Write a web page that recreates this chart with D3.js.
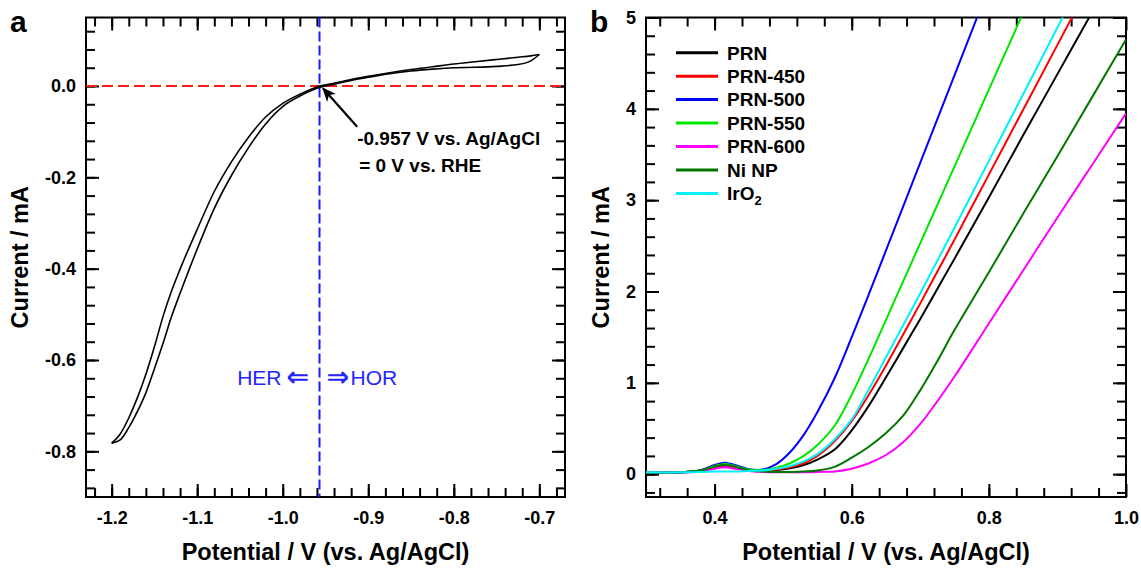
<!DOCTYPE html>
<html>
<head>
<meta charset="utf-8">
<script src="https://cdn.jsdelivr.net/npm/d3@7"></script>
<style>
  body { margin: 0; background: #fff; }
  svg { font-family: "Liberation Sans", Arial, sans-serif; }
</style>
</head>
<body>
<script>
// ---- panel a: CV in H2-saturated electrolyte ----
var cvPotential = [-1.20, -1.19, -1.18, -1.17, -1.16, -1.15, -1.14, -1.13, -1.12, -1.10,
                   -1.08, -1.06, -1.04, -1.02, -1.00, -0.98, -0.96, -0.94, -0.92, -0.90,
                   -0.875, -0.85, -0.825, -0.80, -0.775, -0.75, -0.725, -0.71, -0.70];
var cvCurrentUpper = [-0.782, -0.762, -0.727, -0.683, -0.631, -0.571, -0.505, -0.449, -0.401, -0.314,
                      -0.231, -0.166, -0.112, -0.068, -0.038, -0.018, -0.002, 0.006, 0.014, 0.021,
                      0.029, 0.036, 0.042, 0.048, 0.053, 0.058, 0.063, 0.066, 0.069];
var cvCurrentLower = [-0.782, -0.775, -0.748, -0.713, -0.672, -0.619, -0.564, -0.505, -0.454, -0.357,
                      -0.268, -0.196, -0.135, -0.083, -0.045, -0.022, -0.005, 0.004, 0.012, 0.019,
                      0.027, 0.033, 0.037, 0.040, 0.041, 0.043, 0.047, 0.055, 0.069];
var rhePotential = -0.957;
var cvXTicks = [-1.2, -1.1, -1.0, -0.9, -0.8, -0.7];
var cvYTicks = [0.0, -0.2, -0.4, -0.6, -0.8];

// ---- panel b: OER polarisation curves ----
var lsvPotential = [0.30, 0.35, 0.38, 0.40, 0.415, 0.43, 0.45, 0.47, 0.49, 0.51, 0.53, 0.55, 0.575,
                    0.60, 0.625, 0.65, 0.675, 0.70, 0.725, 0.75, 0.80, 0.85, 0.90, 0.95, 1.00];
var prn    = [0.015, 0.02, 0.04, 0.085, 0.10, 0.085, 0.045, 0.035, 0.045, 0.065, 0.10, 0.16, 0.27,
              0.48, 0.75, 1.06, 1.38, 1.70, 2.03, 2.36, 3.03, 3.71, 4.38, 5.05, 5.72];
var prn450 = [0.015, 0.02, 0.035, 0.075, 0.09, 0.075, 0.04, 0.035, 0.05, 0.075, 0.12, 0.20, 0.36,
              0.58, 0.87, 1.19, 1.53, 1.87, 2.22, 2.57, 3.28, 3.99, 4.70, 5.41, 6.12];
var prn500 = [0.015, 0.02, 0.045, 0.10, 0.125, 0.10, 0.055, 0.05, 0.11, 0.24, 0.43, 0.68, 1.05,
              1.50, 1.97, 2.45, 2.93, 3.41, 3.89, 4.37, 5.33, 6.29, 7.25, 8.21, 9.17];
var prn550 = [0.015, 0.02, 0.04, 0.09, 0.112, 0.09, 0.05, 0.045, 0.07, 0.12, 0.20, 0.32, 0.53,
              0.87, 1.27, 1.69, 2.11, 2.53, 2.95, 3.37, 4.21, 5.05, 5.89, 6.73, 7.57];
var prn600 = [0.015, 0.02, 0.03, 0.06, 0.075, 0.06, 0.035, 0.025, 0.02, 0.02, 0.02, 0.025, 0.03,
              0.06, 0.12, 0.21, 0.35, 0.55, 0.80, 1.07, 1.65, 2.23, 2.81, 3.38, 3.95];
var niNP   = [0.015, 0.02, 0.04, 0.085, 0.10, 0.085, 0.04, 0.03, 0.025, 0.025, 0.03, 0.04, 0.08,
              0.18, 0.30, 0.45, 0.64, 0.92, 1.24, 1.58, 2.21, 2.85, 3.48, 4.12, 4.76];
var irO2   = [0.02, 0.02, 0.025, 0.03, 0.03, 0.03, 0.035, 0.04, 0.06, 0.09, 0.14, 0.22, 0.38,
              0.60, 0.93, 1.28, 1.63, 1.98, 2.34, 2.70, 3.43, 4.16, 4.89, 5.62, 6.35];
var seriesNames  = ["PRN", "PRN-450", "PRN-500", "PRN-550", "PRN-600", "Ni NP", "IrO2"];
var seriesValues = [prn, prn450, prn500, prn550, prn600, niNP, irO2];
var seriesColors = ["#000000", "#ff0000", "#0000ff", "#00e600", "#ff00ff", "#007800", "#00f0ff"];
var lsvXTicks = [0.4, 0.6, 0.8, 1.0];
var lsvYTicks = [0, 1, 2, 3, 4, 5];

var width = 1141, height = 569;
var font = "'Liberation Sans', Arial, sans-serif";

var svg = d3.select("body").append("svg")
    .attr("width", width)
    .attr("height", height);

var xa = d3.scaleLinear().domain([-1.23, -0.67]).range([86, 565]),
    ya = d3.scaleLinear().domain([-0.9, 0.15]).range([497, 17.5]),
    xb = d3.scaleLinear().domain([0.3, 1.0]).range([646, 1126]),
    yb = d3.scaleLinear().domain([-0.25, 5]).range([497, 17.5]);

// inward ticks on all four sides, labels only bottom/left
function tickSet(g, axis, tr, vals, size, fmt, pad) {
  var a = g.append("g")
      .attr("transform", tr)
      .call(axis.tickValues(vals).tickSize(-size).tickPadding(pad || 0).tickFormat(fmt || ""));
  a.attr("font-family", null).attr("font-size", null);
  a.select(".domain").remove();
  a.selectAll("line").attr("stroke", "#000").attr("stroke-width", 2);
  a.selectAll("text")
      .attr("fill", "#000")
      .style("font-family", font)
      .style("font-size", "18px")
      .style("font-weight", "bold");
}

function frame(x, y, xMaj, xMin, yMaj, yMin, xFmt, yFmt) {
  var g = svg.append("g");
  var x0 = x.range()[0], x1 = x.range()[1], y0 = y.range()[0], y1 = y.range()[1];
  tickSet(g, d3.axisBottom(x), "translate(0," + y0 + ")", xMin, 9);
  tickSet(g, d3.axisBottom(x), "translate(0," + y0 + ")", xMaj, 13, xFmt, 14);
  tickSet(g, d3.axisTop(x), "translate(0," + y1 + ")", xMin, 9);
  tickSet(g, d3.axisTop(x), "translate(0," + y1 + ")", xMaj, 13);
  tickSet(g, d3.axisLeft(y), "translate(" + x0 + ",0)", yMin, 9);
  tickSet(g, d3.axisLeft(y), "translate(" + x0 + ",0)", yMaj, 13, yFmt, 10);
  tickSet(g, d3.axisRight(y), "translate(" + x1 + ",0)", yMin, 9);
  tickSet(g, d3.axisRight(y), "translate(" + x1 + ",0)", yMaj, 13);
  g.append("rect")
      .attr("x", x0).attr("y", y1)
      .attr("width", x1 - x0).attr("height", y0 - y1)
      .attr("fill", "none").attr("stroke", "#000").attr("stroke-width", 2);
  return g;
}

function title(x, y, txt, rotate) {
  svg.append("text")
      .attr("transform", "translate(" + x + "," + y + ")" + (rotate ? " rotate(-90)" : ""))
      .attr("text-anchor", "middle")
      .style("font-family", font).style("font-size", "23.5px").style("font-weight", "bold")
      .text(txt);
}

// ================= panel a =================
var fmt1 = (d) => d.toFixed(1);
frame(xa, ya, cvXTicks, d3.range(-1.22, -0.669, 0.02), cvYTicks, d3.range(-0.88, 0.13, 0.04), fmt1, fmt1);

svg.append("line")
    .attr("x1", xa.range()[0]).attr("x2", xa.range()[1])
    .attr("y1", ya(0)).attr("y2", ya(0))
    .attr("stroke", "#ff1a1a").attr("stroke-width", 2).attr("stroke-dasharray", "11,5");
svg.append("line")
    .attr("x1", xa(rhePotential)).attr("x2", xa(rhePotential))
    .attr("y1", ya.range()[1]).attr("y2", ya.range()[0])
    .attr("stroke", "#1a1aff").attr("stroke-width", 2).attr("stroke-dasharray", "10,4");

var cvLine = d3.line()
    .x((d) => xa(d[0]))
    .y((d) => ya(d[1]))
    .curve(d3.curveMonotoneX);
[cvCurrentUpper, cvCurrentLower].forEach(function(arr) {
  svg.append("path")
      .datum(cvPotential.map((v, i) => [v, arr[i]]))
      .attr("d", cvLine)
      .attr("fill", "none").attr("stroke", "#000").attr("stroke-width", 1.6);
});

// annotation arrow
svg.append("defs").append("marker")
    .attr("id", "head")
    .attr("markerUnits", "userSpaceOnUse")
    .attr("markerWidth", 14).attr("markerHeight", 12)
    .attr("refX", 13).attr("refY", 6)
    .attr("orient", "auto")
  .append("path")
    .attr("d", "M0,0 L14,6 L0,12 L4,6 Z")
    .attr("fill", "#000");
var tail = [-0.913, -0.089];
svg.append("line")
    .attr("x1", xa(tail[0])).attr("y1", ya(tail[1]))
    .attr("x2", xa(-0.953)).attr("y2", ya(-0.005))
    .attr("stroke", "#000").attr("stroke-width", 2.2)
    .attr("marker-end", "url(#head)");
var note = svg.append("text")
    .attr("x", xa(tail[0])).attr("y", ya(tail[1]) + 18)
    .style("font-family", font).style("font-size", "19px").style("font-weight", "bold");
note.append("tspan").attr("x", xa(tail[0])).text("-0.957 V vs. Ag/AgCl");
note.append("tspan").attr("x", xa(tail[0]) + 2).attr("dy", 27).text("= 0 V vs. RHE");

// HER / HOR labels either side of the RHE line
var herY = ya(-0.655), xr = xa(rhePotential);
var blueText = [
  {x: xr - 38, anchor: "end", size: 21, txt: "HER"},
  {x: xr - 33, anchor: "start", size: 27, txt: "\u21D0"},
  {x: xr + 7, anchor: "start", size: 27, txt: "\u21D2"},
  {x: xr + 31, anchor: "start", size: 21, txt: "HOR"}
];
svg.selectAll(".her").data(blueText).enter().append("text")
    .attr("class", "her")
    .attr("x", (d) => d.x).attr("y", herY)
    .attr("text-anchor", (d) => d.anchor)
    .attr("fill", "#2525ff")
    .style("font-family", (d) => d.size > 21 ? "'DejaVu Sans', sans-serif" : font)
    .style("font-weight", (d) => d.size > 21 ? "bold" : "normal")
    .style("font-size", (d) => d.size + "px")
    .attr("dy", (d) => d.size > 21 ? 1 : 0)
    .text((d) => d.txt);

title((xa.range()[0] + xa.range()[1]) / 2, 560, "Potential / V (vs. Ag/AgCl)");
title(28, (ya.range()[0] + ya.range()[1]) / 2, "Current / mA", true);

// ================= panel b =================
frame(xb, yb, lsvXTicks, d3.range(0.32, 0.99, 0.04), lsvYTicks, d3.range(-0.2, 5.01, 0.2), fmt1, (d) => d);

svg.append("clipPath").attr("id", "clipb")
  .append("rect")
    .attr("x", xb.range()[0]).attr("y", yb.range()[1])
    .attr("width", xb.range()[1] - xb.range()[0])
    .attr("height", yb.range()[0] - yb.range()[1]);

var lsvLine = d3.line()
    .x((d) => xb(d[0]))
    .y((d) => yb(d[1]))
    .curve(d3.curveCatmullRom.alpha(0.5));

var curves = svg.append("g").attr("clip-path", "url(#clipb)");
seriesValues.forEach(function(vals, k) {
  curves.append("path")
      .datum(lsvPotential.map((v, i) => [v, vals[i]]))
      .attr("d", lsvLine)
      .attr("fill", "none")
      .attr("stroke", seriesColors[k])
      .attr("stroke-width", 2);
});

var legend = svg.append("g")
    .style("font-family", font).style("font-size", "19px").style("font-weight", "bold");
seriesNames.forEach(function(name, k) {
  var ly = 52.7 + k * 23.45;
  legend.append("line")
      .attr("x1", 676).attr("x2", 718).attr("y1", ly).attr("y2", ly)
      .attr("stroke", seriesColors[k]).attr("stroke-width", 3);
  var t = legend.append("text").attr("x", 727).attr("y", ly).attr("dy", "0.36em");
  if (name === "IrO2") {
    t.append("tspan").text("IrO");
    t.append("tspan").attr("dy", 5).style("font-size", "13px").text("2");
  } else {
    t.text(name);
  }
});

title((xb.range()[0] + xb.range()[1]) / 2, 560, "Potential / V (vs. Ag/AgCl)");
title(609, (yb.range()[0] + yb.range()[1]) / 2, "Current / mA", true);

// panel letters
svg.append("text").attr("x", 10).attr("y", 32)
    .style("font-family", font).style("font-size", "30px").style("font-weight", "bold").text("a");
svg.append("text").attr("x", 590).attr("y", 32)
    .style("font-family", font).style("font-size", "30px").style("font-weight", "bold").text("b");
</script>
</body>
</html>
